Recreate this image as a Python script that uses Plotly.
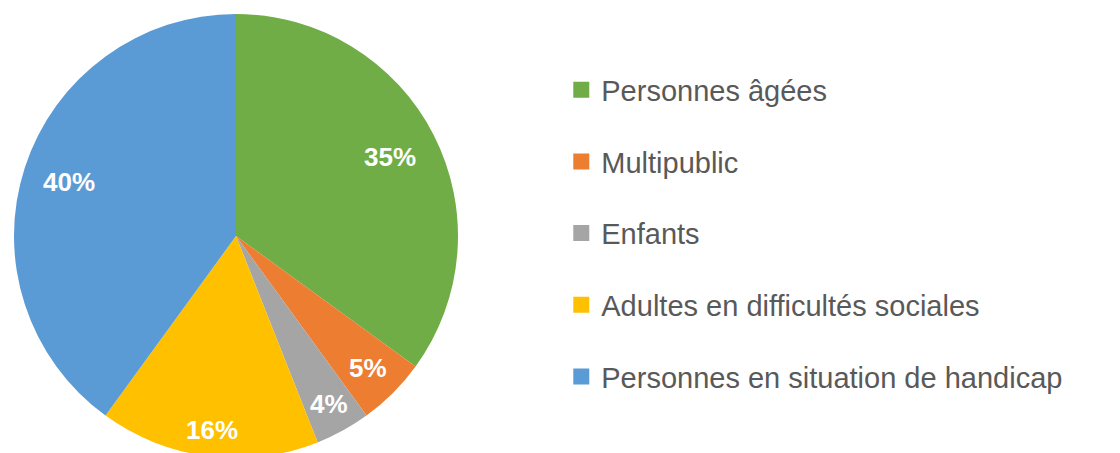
import math
import plotly.graph_objects as go

categories = ["Personnes âgées", "Multipublic", "Enfants",
              "Adultes en difficultés sociales", "Personnes en situation de handicap"]
values = [35, 5, 4, 16, 40]
colors = ["#70AD47", "#ED7D31", "#A5A5A5", "#FFC000", "#5B9BD5"]
# label distance from centre, as a fraction of the radius (style)
label_radius = [0.78, 0.84, 0.865, 0.88, 0.79]

W, H = 1120, 453
MT, MB = 6, 3
PH = H - MT - MB            # plot-area height
R = PH / 2.0                # pie radius in px
CX = 228.0                  # pie centre x in figure px
CY = MT + R                 # pie centre y in figure px (from top)

fig = go.Figure()
fig.add_trace(go.Pie(
    labels=categories, values=values, sort=False, direction="clockwise", rotation=0,
    marker=dict(colors=colors, line=dict(width=0)),
    textinfo="none", showlegend=False,
    domain=dict(x=[(CX - R) / W, (CX + R) / W], y=[0, 1]),
    hoverinfo="label+percent",
))
for i, (c, col) in enumerate(zip(categories, colors)):
    fig.add_trace(go.Scatter(
        x=[None], y=[None], mode="markers", name=c, legendgroup=f"g{i}",
        marker=dict(symbol="square", size=16, color=col), showlegend=True,
    ))

# percentage labels placed along each slice's mid-angle
total = sum(values)
cum = 0
for v, rf in zip(values, label_radius):
    mid = (cum + v / 2) / total * 2 * math.pi
    cum += v
    px = CX + rf * R * math.sin(mid)
    py = CY - rf * R * math.cos(mid)
    fig.add_annotation(
        x=px / W, y=(H - MB - py) / PH, xref="paper", yref="paper",
        text=f"<b>{round(v / total * 100)}%</b>", showarrow=False,
        font=dict(color="white", size=26, family="Liberation Sans, Arial"),
        xanchor="center", yanchor="middle",
    )

fig.update_layout(
    width=W, height=H,
    margin=dict(l=0, r=0, t=MT, b=MB),
    paper_bgcolor="white", plot_bgcolor="white",
    xaxis=dict(visible=False), yaxis=dict(visible=False),
    font=dict(family="Liberation Sans, Arial", color="#595959"),
    legend=dict(x=0.494, y=0.506, xanchor="left", yanchor="middle",
                font=dict(size=29, color="#595959"), tracegroupgap=31,
                itemwidth=30, bgcolor="rgba(0,0,0,0)"),
)
fig.write_html("out.html")
